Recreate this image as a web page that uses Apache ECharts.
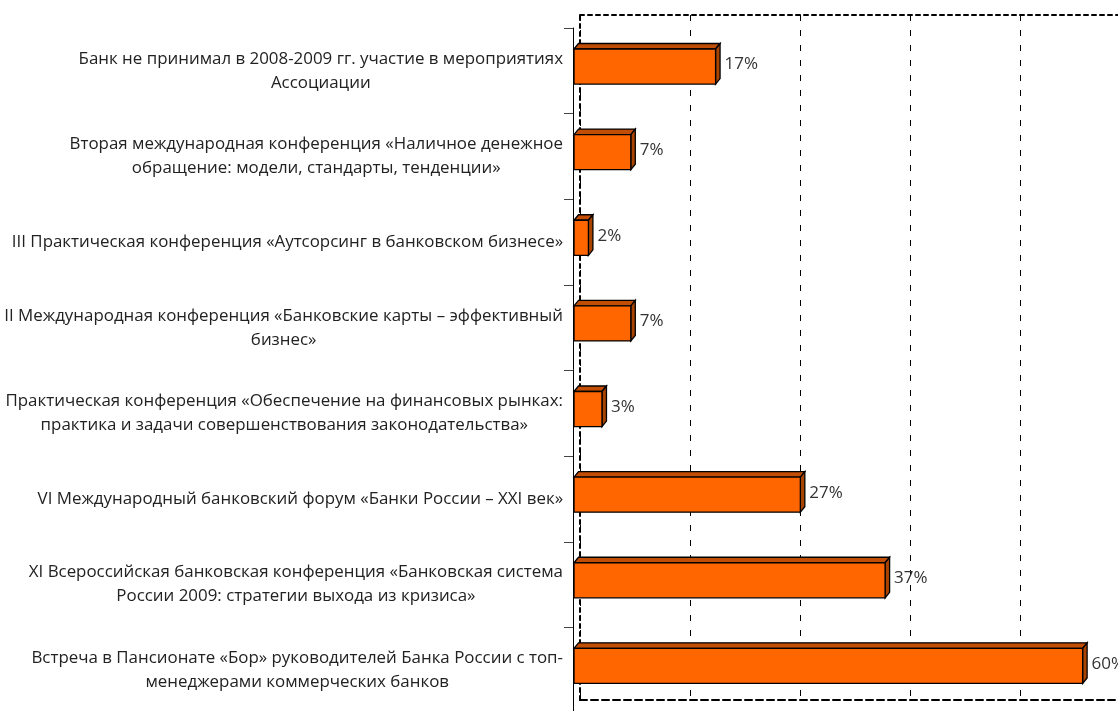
<!DOCTYPE html>
<html>
<head>
<meta charset="utf-8">
<script src="https://cdn.jsdelivr.net/npm/echarts@6/dist/echarts.min.js"></script>
<style>
  html, body { margin: 0; padding: 0; background: #fff; }
  #chart { width: 1118px; height: 711px; }
</style>
</head>
<body>
<div id="chart"></div>
<script>
// categories (top to bottom)
const categories = [
  'Банк не принимал в 2008-2009 гг. участие в мероприятиях\nАссоциации',
  'Вторая международная конференция «Наличное денежное\nобращение: модели, стандарты, тенденции»',
  'III Практическая конференция «Аутсорсинг в банковском бизнесе»',
  'II Международная конференция «Банковские карты – эффективный\nбизнес»',
  'Практическая конференция «Обеспечение на финансовых рынках:\nпрактика и задачи совершенствования законодательства»',
  'VI Международный банковский форум «Банки России – XXI век»',
  'XI Всероссийская банковская конференция «Банковская система\nРоссии 2009: стратегии выхода из кризиса»',
  'Встреча в Пансионате «Бор» руководителей Банка России с топ-\nменеджерами коммерческих банков'
]
// share of respondents, %
const shares = [16.7, 6.7, 1.7, 6.7, 3.3, 26.7, 36.7, 60]

const axisMax = 65
const axisStep = 13
const FONT = '"Open Sans", "Noto Sans", sans-serif'

const chart = echarts.init(document.getElementById('chart'))

function renderBar(params, api) {
  const v = api.value(0)
  const i = api.value(1)
  const start = api.coord([0, i])
  const end = api.coord([v, i])
  const band = api.size([0, 1])[1]
  const h = band * 0.41
  const dx = 4.5, dy = 5.5
  const x0 = start[0] + 1
  const x1 = end[0] + 1
  const yc = start[1] - band * 0.05
  const yt = yc - h / 2
  const yb = yc + h / 2
  const edge = { stroke: '#000', lineWidth: 1.3 }
  return {
    type: 'group',
    children: [
      {
        type: 'polygon',
        shape: { points: [[x0, yt], [x0 + dx, yt - dy], [x1 + dx, yt - dy], [x1, yt]] },
        style: Object.assign({ fill: '#c24d05' }, edge)
      },
      {
        type: 'polygon',
        shape: { points: [[x1, yt], [x1 + dx, yt - dy], [x1 + dx, yb - dy], [x1, yb]] },
        style: Object.assign({ fill: '#a84300' }, edge)
      },
      {
        type: 'rect',
        shape: { x: x0, y: yt, width: x1 - x0, height: h },
        style: Object.assign({ fill: '#ff6600' }, edge)
      },
      {
        type: 'text',
        style: {
          text: Math.round(v) + '%',
          x: x1 + 9,
          y: yc - 2,
          verticalAlign: 'middle',
          fill: '#333',
          font: '17px ' + FONT
        }
      }
    ]
  }
}

chart.setOption({
  animation: false,
  grid: [
    // back wall
    { left: 580, top: 15, width: 550, height: 685, outerBoundsMode: 'none' },
    // front plane
    { left: 573, top: 28, width: 551, height: 685, outerBoundsMode: 'none' }
  ],
  xAxis: [
    {
      gridIndex: 0, type: 'value', min: 0, max: axisMax, interval: axisStep, position: 'top',
      axisLine: { show: true, onZero: false, lineStyle: { color: '#000', width: 2, type: [4, 4] } },
      axisTick: { show: false },
      axisLabel: { show: false },
      splitLine: { show: true, lineStyle: { color: '#000', width: 1, type: [6, 9] } }
    },
    {
      gridIndex: 0, type: 'value', min: 0, max: axisMax, interval: axisStep, position: 'bottom',
      axisLine: { show: true, onZero: false, lineStyle: { color: '#000', width: 2, type: [7, 4] } },
      axisTick: { show: false },
      axisLabel: { show: false },
      splitLine: { show: false }
    },
    {
      gridIndex: 1, type: 'value', min: 0, max: axisMax, interval: axisStep, show: false
    }
  ],
  yAxis: [
    {
      gridIndex: 0, type: 'value',
      axisLine: { show: true, onZero: false, lineStyle: { color: '#000', width: 2, type: [4, 4] } },
      axisTick: { show: false },
      axisLabel: { show: false },
      splitLine: { show: false }
    },
    {
      gridIndex: 1, type: 'category', data: categories, inverse: true,
      axisLine: { show: true, lineStyle: { color: '#000', width: 1 } },
      axisTick: { show: true, length: 9, lineStyle: { color: '#444' } },
      axisLabel: {
        margin: 10,
        formatter: v => v.split('\n').map(s => '{a|' + s + '}').join('\n'),
        rich: {
          a: { align: 'center', fontSize: 16.9, lineHeight: 24, color: '#222', fontFamily: FONT }
        }
      }
    }
  ],
  series: [{
    type: 'custom',
    xAxisIndex: 2,
    yAxisIndex: 1,
    clip: false,
    renderItem: renderBar,
    encode: { x: 0, y: 1 },
    data: shares.map((v, i) => [v, i])
  }]
})
</script>
</body>
</html>
